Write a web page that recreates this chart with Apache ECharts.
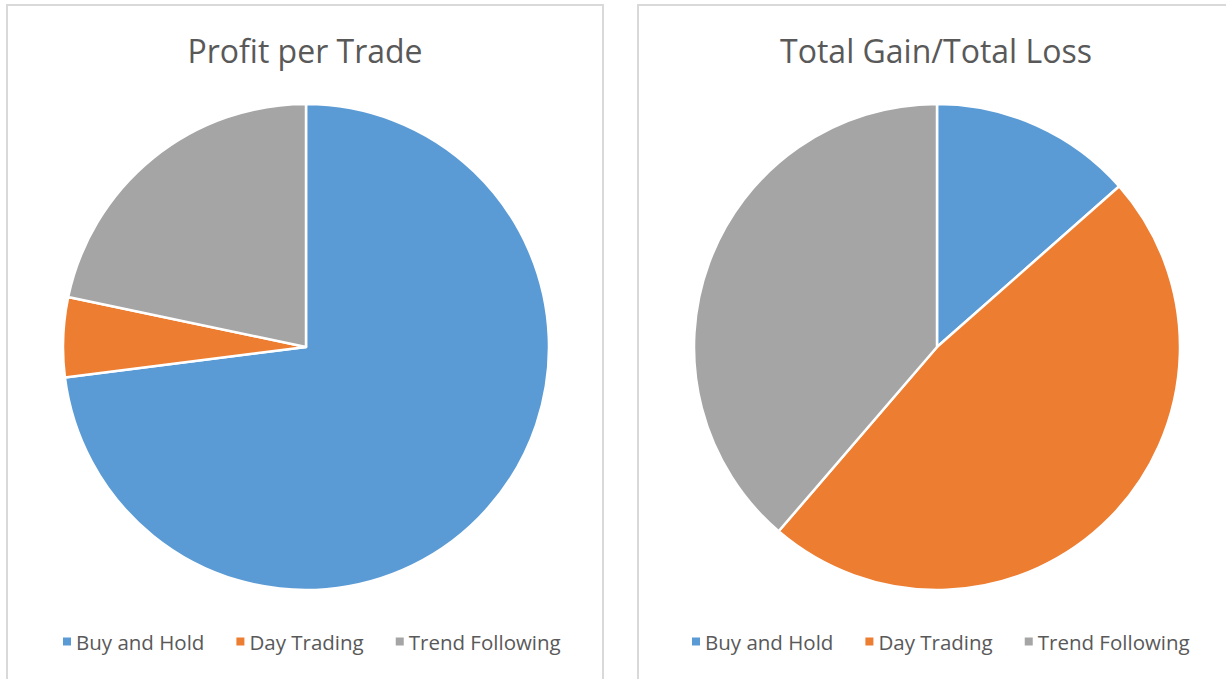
<!DOCTYPE html>
<html>
<head>
<meta charset="utf-8">
<script src="https://cdn.jsdelivr.net/npm/echarts@6/dist/echarts.min.js"></script>
<style>
  html, body { margin: 0; padding: 0; background: #fff; }
  #chart { width: 1226px; height: 679px; }
</style>
</head>
<body>
<div id="chart"></div>
<script>
(function() {
  var categories = ['Buy and Hold', 'Day Trading', 'Trend Following'];
  var profitPerTrade = [73.0, 5.3, 21.7];
  var gainLossRatio = [13.5, 47.8, 38.7];
  var titles = ['Profit per Trade', 'Total Gain/Total Loss'];

  var colors = ['#5b9bd5', '#ed7d31', '#a5a5a5'];
  var ink = '#595959';
  var font = 'Open Sans';

  function toData(values) {
    return categories.map(function(name, i) { return { name: name, value: values[i] }; });
  }

  function legendAt(idx, left) {
    return {
      seriesIndex: idx, data: categories, left: left, top: 626, orient: 'horizontal',
      icon: 'rect', itemWidth: 10, itemHeight: 10, itemGap: 30,
      textStyle: { color: ink, fontFamily: font, fontSize: 20.5, padding: [0, 0, 0, -1] }
    };
  }

  function pieAt(cx, values) {
    return {
      type: 'pie', center: [cx, 347], radius: 243, startAngle: 90, clockwise: true,
      label: { show: false }, labelLine: { show: false },
      itemStyle: { borderColor: '#fff', borderWidth: 2.5 },
      data: toData(values)
    };
  }

  var chart = echarts.init(document.getElementById('chart'), null, { renderer: 'svg' });
  chart.setOption({
    animation: false,
    color: colors,
    graphic: [
      { type: 'rect', shape: { x: 7, y: 5, width: 596, height: 700 }, style: { fill: 'none', stroke: '#d9d9d9', lineWidth: 2 } },
      { type: 'rect', shape: { x: 638, y: 5, width: 620, height: 700 }, style: { fill: 'none', stroke: '#d9d9d9', lineWidth: 2 } }
    ],
    title: [
      { text: titles[0], left: 300, top: 29, textAlign: 'center',
        textStyle: { color: ink, fontFamily: font, fontSize: 32, fontWeight: 'normal' } },
      { text: titles[1], left: 931, top: 29, textAlign: 'center',
        textStyle: { color: ink, fontFamily: font, fontSize: 32, fontWeight: 'normal' } }
    ],
    legend: [legendAt(0, 56), legendAt(1, 685)],
    series: [pieAt(306, profitPerTrade), pieAt(937, gainLossRatio)]
  });
})();
</script>
</body>
</html>
